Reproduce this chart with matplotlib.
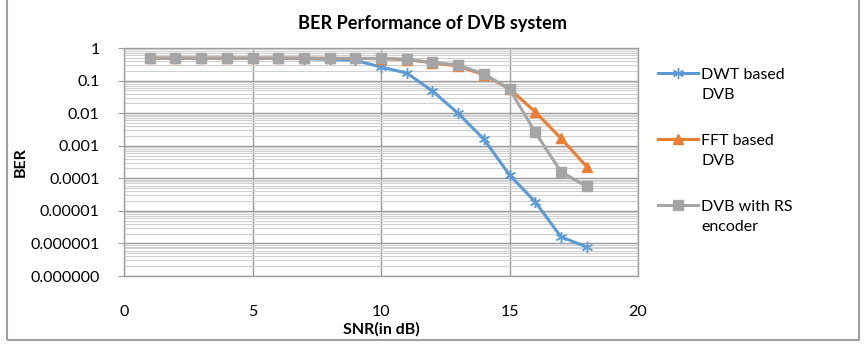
import matplotlib.pyplot as plt
from matplotlib.patches import Rectangle
from matplotlib.legend_handler import HandlerLine2D
from matplotlib.ticker import FixedLocator, LogLocator, NullFormatter
import numpy as np

plt.rcParams['font.family'] = ['Lato', 'DejaVu Sans']

# SNR values (dB)
snr = [1, 2, 3, 4, 5, 6, 7, 8, 9, 10, 11, 12, 13, 14, 15, 16, 17, 18]

# BER values
ber_dwt = [0.48, 0.48, 0.48, 0.48, 0.48, 0.48, 0.47, 0.45, 0.42, 0.26, 0.17,
           0.048, 0.0099, 0.0016, 0.000127, 0.000019, 0.0000016, 0.00000078]
ber_fft = [0.49, 0.49, 0.49, 0.49, 0.49, 0.49, 0.49, 0.48, 0.48, 0.47, 0.44,
           0.35, 0.28, 0.15, 0.056, 0.011, 0.0017, 0.00023]
ber_rs = [0.49, 0.49, 0.49, 0.49, 0.49, 0.49, 0.49, 0.48, 0.48, 0.48, 0.45,
          0.36, 0.30, 0.16, 0.056, 0.0026, 0.00016, 0.000056]

labels = ["DWT based\nDVB", "FFT based\nDVB", "DVB with RS\nencoder"]
colors = ["#5B9BD5", "#ED7D31", "#A5A5A5"]


class TopHandler(HandlerLine2D):
    # put the legend line next to the first text line, like Excel does
    def create_artists(self, legend, orig_handle, xdescent, ydescent,
                       width, height, fontsize, trans):
        return super().create_artists(legend, orig_handle, xdescent,
                                      ydescent - 17, width, height,
                                      fontsize, trans)


W, H = 867, 346
fig = plt.figure(figsize=(W / 100, H / 100), dpi=100)
ax = fig.add_axes([124 / W, 1 - 276 / H, (638 - 124) / W, (276 - 48) / H])

ax.plot(snr, ber_dwt, color=colors[0], lw=2.2, marker=(6, 2, 0), ms=8,
        mew=1.0, label=labels[0])
ax.plot(snr, ber_fft, color=colors[1], lw=2.2, marker="^", ms=7,
        label=labels[1])
ax.plot(snr, ber_rs, color=colors[2], lw=2.2, marker="s", ms=7,
        label=labels[2])

ax.set_yscale("log")
ax.set_xlim(0, 20)
ax.set_ylim(1e-7, 1)

ax.xaxis.set_major_locator(FixedLocator([0, 5, 10, 15, 20]))
ax.yaxis.set_major_locator(FixedLocator([1e-7, 1e-6, 1e-5, 1e-4, 1e-3, 1e-2, 1e-1, 1]))
ax.set_yticklabels(["0.000000", "0.000001", "0.00001", "0.0001", "0.001",
                    "0.01", "0.1", "1"])
ax.yaxis.set_minor_locator(LogLocator(base=10, subs=np.arange(2, 10), numticks=20))
ax.yaxis.set_minor_formatter(NullFormatter())

ax.grid(True, which="major", color="#9a9a9a", lw=1.0)
ax.grid(True, which="minor", axis="y", color="#d0d0d0", lw=0.8)
ax.set_axisbelow(True)

for s in ax.spines.values():
    s.set_color("#a0a0a0")
    s.set_linewidth(1.0)

ax.tick_params(axis="x", length=0, pad=21, labelsize=11.5, colors="#a0a0a0",
               labelcolor="black")
ax.tick_params(axis="y", which="major", length=4.5, pad=13, labelsize=11.5,
               colors="#a0a0a0", labelcolor="black", direction="out")
ax.tick_params(axis="y", which="minor", length=0)

ax.set_xlabel("SNR(in dB)", fontsize=11.5, fontweight="bold", labelpad=2)
ax.set_ylabel("BER", fontsize=11.5, fontweight="bold", labelpad=2)

# title centred on the whole chart box, sized to the reference width
title = fig.text(433 / W, 1 - 24 / H, "BER Performance of DVB system",
                 ha="center", va="center", fontsize=11, fontweight="bold")
fig.canvas.draw()
tw = title.get_window_extent().width
title.set_fontsize(11 * 268 / tw)

handles, labs = ax.get_legend_handles_labels()
leg = fig.legend(handles, labs, loc="upper left",
                 bbox_to_anchor=(650 / W, 1 - 60 / H), frameon=False,
                 fontsize=11.5, handlelength=2.5, handletextpad=0.2,
                 labelspacing=2.0, borderpad=0,
                 handler_map={h: TopHandler() for h in handles})
for t in leg.get_texts():
    t.set_linespacing(1.55)

fig.patches.append(Rectangle((7 / W, 1 - 340 / H), (859 - 7) / W, 340 / H + 0.02,
                             transform=fig.transFigure, fill=False,
                             edgecolor="#a0a0a0", lw=1.5))

fig.savefig("out.png", dpi=100)
